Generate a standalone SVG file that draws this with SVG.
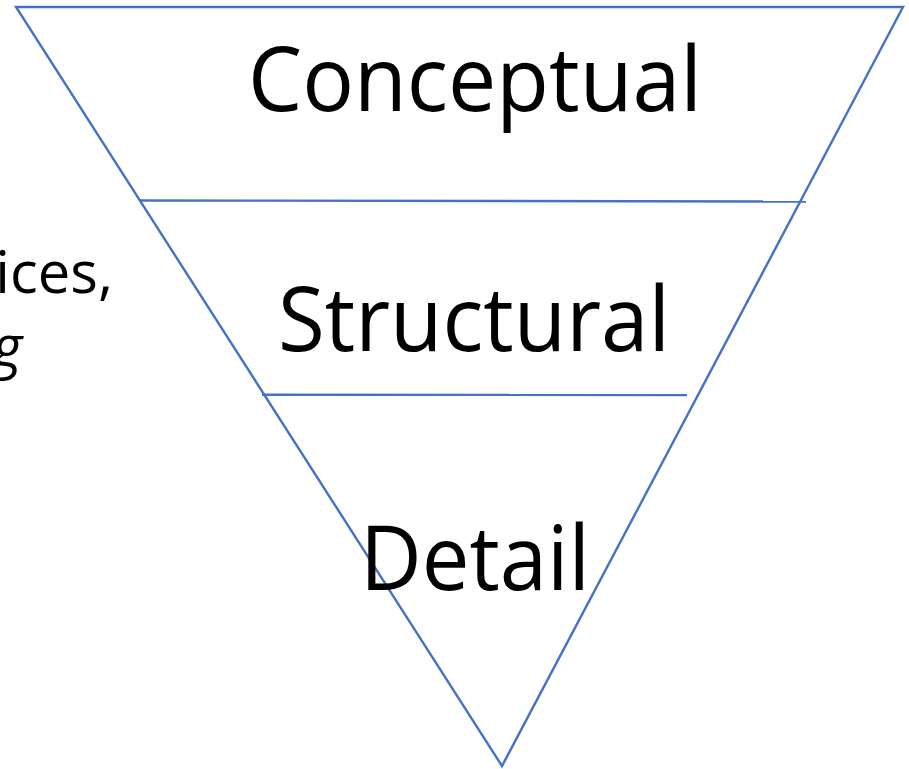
<svg xmlns="http://www.w3.org/2000/svg" width="909" height="769" viewBox="0 0 909 769">
<style>
.ln{stroke:#4472C4;stroke-width:2.4;fill:none;stroke-linejoin:miter}
.big{font-family:"Open Sans","Liberation Sans",sans-serif;font-size:90px;fill:#000}
.side{font-family:"Open Sans","Liberation Sans",sans-serif;font-size:58px;fill:#000}
</style>
<rect width="909" height="769" fill="#fff"/>
<g id="side-text">
<text class="side" x="113" y="293" text-anchor="end">ices,</text>
<text class="side" x="22" y="367" text-anchor="end" font-style="italic">g</text>
</g>
<g id="connectors">
<path class="ln" d="M16,7 L903,7 L502,766 Z"/>
<path class="ln" d="M140,200.5 L806,201.5"/>
<path class="ln" d="M262,394.7 L687,395"/>
</g>
<g id="conceptual">
<text class="big" x="248" y="111" textLength="454" lengthAdjust="spacingAndGlyphs">Conceptual</text>
</g>
<g id="structural">
<text class="big" x="278" y="351" textLength="392" lengthAdjust="spacingAndGlyphs">Structural</text>
</g>
<g id="detail">
<text class="big" x="360" y="590" textLength="230" lengthAdjust="spacingAndGlyphs">Detail</text>
</g>
</svg>
